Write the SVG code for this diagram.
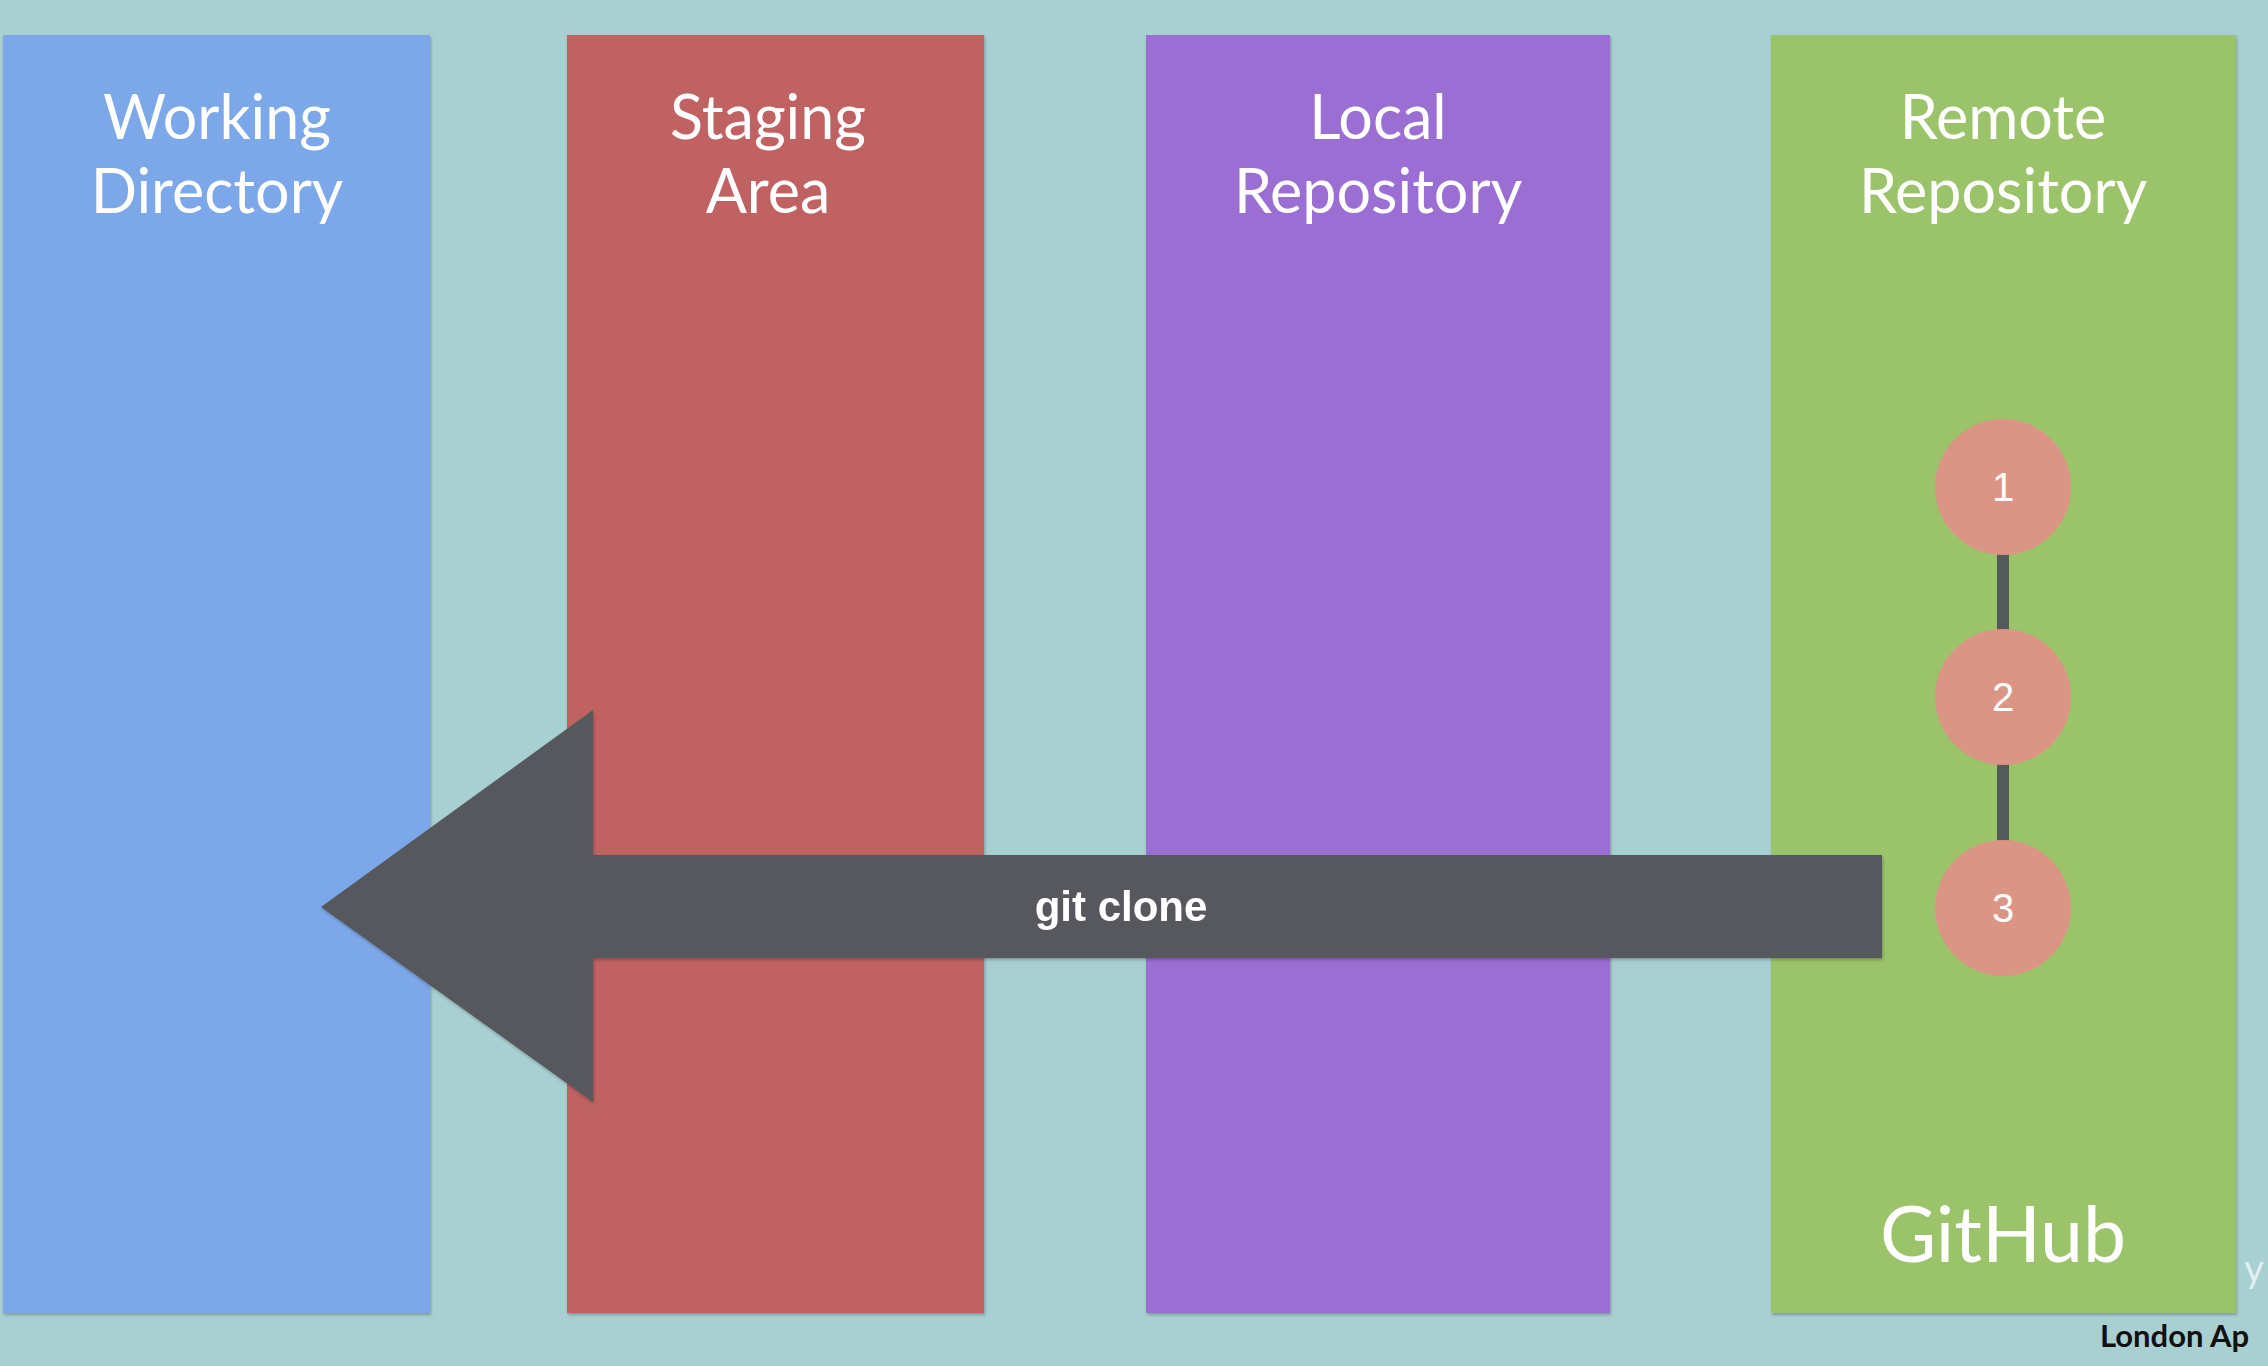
<svg xmlns="http://www.w3.org/2000/svg" width="2268" height="1366" viewBox="0 0 2268 1366">
  <defs>
    <filter id="sh" x="-5%" y="-5%" width="110%" height="110%">
      <feDropShadow dx="1" dy="2" stdDeviation="1.5" flood-color="#000" flood-opacity="0.25"/>
    </filter>
    <style>
      .col { filter: url(#sh); }
      .title { font-family: Lato, "Open Sans", sans-serif; font-size: 61px; fill: #ffffff; text-anchor: middle; }
      .num { font-family: "Liberation Sans", Arial, sans-serif; font-size: 40px; fill: #ffffff; text-anchor: middle; }
      .commit { fill: #da9585; }
      .link { stroke: #545a5c; stroke-width: 12; fill: none; }
    </style>
  </defs>
  <rect x="0" y="0" width="2268" height="1366" fill="#a8cfd1"/>
  <text x="2214" y="1282" font-family="Lato, sans-serif" font-size="38" fill="#ffffff" fill-opacity="0.7">o y</text>

  <g id="working-directory">
    <rect class="col" x="3" y="35" width="427" height="1278" fill="#7ba7e8"/>
    <text class="title" x="217" y="139">Working</text>
    <text class="title" x="217" y="213">Directory</text>
  </g>
  <g id="staging-area">
    <rect class="col" x="567" y="35" width="417" height="1278" fill="#c06262"/>
    <text class="title" x="768" y="139">Staging</text>
    <text class="title" x="768" y="213">Area</text>
  </g>
  <g id="local-repository">
    <rect class="col" x="1146" y="35" width="464" height="1278" fill="#9a6ed3"/>
    <text class="title" x="1378" y="139">Local</text>
    <text class="title" x="1378" y="213">Repository</text>
  </g>
  <g id="remote-repository">
    <rect class="col" x="1771" y="35" width="465" height="1278" fill="#9bc46a"/>
    <text class="title" x="2003" y="139">Remote</text>
    <text class="title" x="2003" y="213">Repository</text>
    <text x="2003" y="1262" font-family="Lato, 'Open Sans', sans-serif" font-size="77" fill="#ffffff" text-anchor="middle">GitHub</text>
  </g>

  <g id="connectors">
    <line class="link" x1="2003" y1="553" x2="2003" y2="631"/>
    <line class="link" x1="2003" y1="763" x2="2003" y2="842"/>
    <g id="git-clone-arrow" filter="url(#sh)">
      <polygon points="1882,855 593,855 593,710 321,907 593,1102 593,958 1882,958" fill="#57585d"/>
      <text x="1121" y="921" font-family="'Liberation Sans', Arial, sans-serif" font-weight="bold" font-size="42" fill="#ffffff" text-anchor="middle">git clone</text>
    </g>
  </g>

  <g id="commit-1">
    <circle class="commit" cx="2003" cy="487" r="68"/>
    <text class="num" x="2003" y="501">1</text>
  </g>
  <g id="commit-2">
    <circle class="commit" cx="2003" cy="697" r="68"/>
    <text class="num" x="2003" y="711">2</text>
  </g>
  <g id="commit-3">
    <circle class="commit" cx="2003" cy="908" r="68"/>
    <text class="num" x="2003" y="922">3</text>
  </g>

  <text x="2100" y="1347" font-family="Lato, 'Open Sans', sans-serif" font-weight="bold" font-size="31" fill="#111111">London Ap</text>
</svg>
